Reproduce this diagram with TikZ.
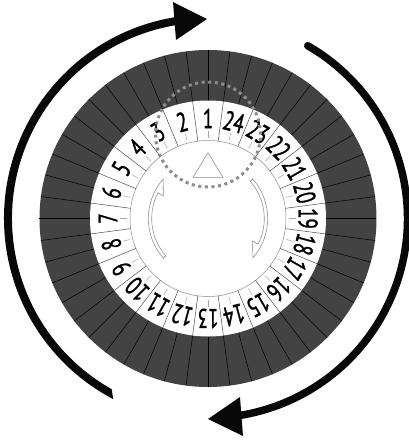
\documentclass[tikz,border=0pt]{standalone}
\usepackage{fontspec}
\newfontfamily\hourfont[RawFeature={embolden=1.4}]{PT Sans}
\usetikzlibrary{arrows.meta}
\definecolor{darkring}{HTML}{434343}
\definecolor{dotgray}{HTML}{8C8C8C}
\tikzset{
  hourlabel/.style={font=\hourfont\fontsize{27}{27}\selectfont, inner sep=0pt, xscale=.7},
  thinrule/.style={draw=#1, line width=.5pt},
  thinrule/.default=black,
  bigarrow/.style={line width=7.5pt, black!97, line cap=round},
  innerarrow/.style={draw=black!45, line width=.55pt, fill=white, line join=miter}
}
\newcommand{\halfarrow}[1]{
  \draw[innerarrow,rotate=#1] (222:59.7) arc[start angle=222, end angle=138.7, radius=59.7]
    -- (153.3:50) -- (152.7:56.3) arc[start angle=152.7, end angle=222, radius=56.3]
    to[bend right=70] cycle;}

\begin{document}
\begin{tikzpicture}[x=1pt,y=1pt]
  \useasboundingbox (-208,-221.5) rectangle (201,218.5);

  % dark ring with its 48 spokes
  \fill[darkring] (0,0) circle (168.5);
  \foreach \i in {0,...,47}
    \draw[thinrule] (7.5*\i:118) -- (7.5*\i:168.5);

  % white hour ring
  \fill[white] (0,0) circle (118);
  \draw[thinrule=black!45] (0,0) circle (78);
  \foreach \i in {1,...,24} {
    \pgfmathsetmacro{\ang}{90+15*(\i-1)}
    \draw[thinrule=black!70] (\ang+7.5:78) -- (\ang+7.5:118);
    \draw[thinrule=black!35] (\ang:81) -- (\ang:88);
    \node[rotate=\ang-90, hourlabel] (h\i) at (\ang:100) {\i};
  }

  % centre marks
  \draw[innerarrow] (0,65.8) -- (15,41.2) -- (-15,41.2) -- cycle;
  \halfarrow{0}
  \halfarrow{180}

  % dotted window
  \draw[dotgray, line width=3pt, dash pattern=on 3pt off 3.6pt] (0,84) circle (52.5);

  % big arrows outside
  \fill[black!97] (240.57:196) arc[start angle=240.57, end angle=97, radius=196]
    -- (97:204) arc[start angle=97, end angle=242.3, radius=204] -- cycle;
  \fill[black!97] (-35,216.5) -- (-1,199.5) -- (-32,178.5) -- cycle;
  \draw[bigarrow] (60:199.5) arc[start angle=60, end angle=-83, radius=199.5];
  \fill[black!97] (35,-217.5) -- (0,-200.5) -- (32,-178.5) -- cycle;
\end{tikzpicture}
\end{document}
